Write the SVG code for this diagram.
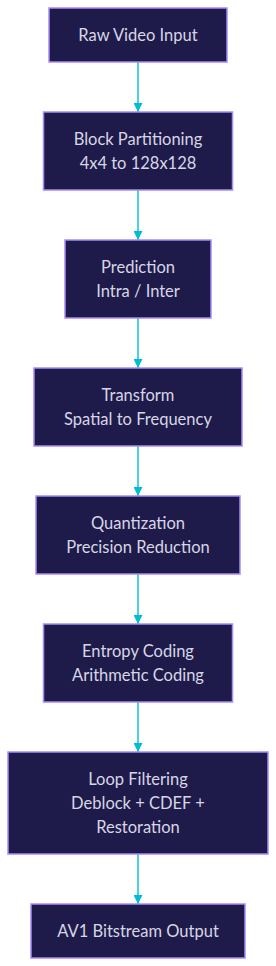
<svg xmlns="http://www.w3.org/2000/svg" width="276" height="966" viewBox="0 0 276 966">
<defs>
<style>
.n rect{fill:#1e1b4b;stroke:#a78bfa;stroke-width:1.5}
.n text{font-family:Lato,"Noto Sans",sans-serif;font-size:16.5px;fill:#d8d6e4;text-anchor:middle}
.e path{stroke:#4dd0e1;stroke-width:2;fill:none;marker-end:url(#ah)}
</style>
<marker id="ah" viewBox="0 0 10 10" refX="10" refY="5" markerWidth="4.5" markerHeight="4.5" orient="auto" markerUnits="strokeWidth">
<path d="M0,0 L10,5 L0,10 z" fill="#00bcd4"/>
</marker>
</defs>
<rect width="276" height="966" fill="#ffffff"/>
<g id="edges" class="e">
<path d="M138,62 V112"/>
<path d="M138,190 V240"/>
<path d="M138,318 V368"/>
<path d="M138,446 V496"/>
<path d="M138,574 V624"/>
<path d="M138,702 V752"/>
<path d="M138,854 V904"/>
</g>
<g id="raw" class="n"><rect x="49" y="8" width="178" height="54"/><text x="138" y="40.5">Raw Video Input</text></g>
<g id="block" class="n"><rect x="43.5" y="112" width="189" height="78"/><text x="138" y="144.5">Block Partitioning</text><text x="138" y="168.5">4x4 to 128x128</text></g>
<g id="pred" class="n"><rect x="65" y="240" width="146" height="78"/><text x="138" y="272.5">Prediction</text><text x="138" y="296.5">Intra / Inter</text></g>
<g id="transform" class="n"><rect x="34" y="368" width="208" height="78"/><text x="138" y="400.5">Transform</text><text x="138" y="424.5">Spatial to Frequency</text></g>
<g id="quant" class="n"><rect x="36" y="496" width="204" height="78"/><text x="138" y="528.5">Quantization</text><text x="138" y="552.5">Precision Reduction</text></g>
<g id="entropy" class="n"><rect x="43.5" y="624" width="189" height="78"/><text x="138" y="656.5">Entropy Coding</text><text x="138" y="680.5">Arithmetic Coding</text></g>
<g id="loop" class="n"><rect x="8" y="752" width="260" height="102"/><text x="138" y="784.5">Loop Filtering</text><text x="138" y="808.5">Deblock + CDEF +</text><text x="138" y="832.5">Restoration</text></g>
<g id="out" class="n"><rect x="31" y="904" width="214" height="54"/><text x="138" y="936.5">AV1 Bitstream Output</text></g>
</svg>
